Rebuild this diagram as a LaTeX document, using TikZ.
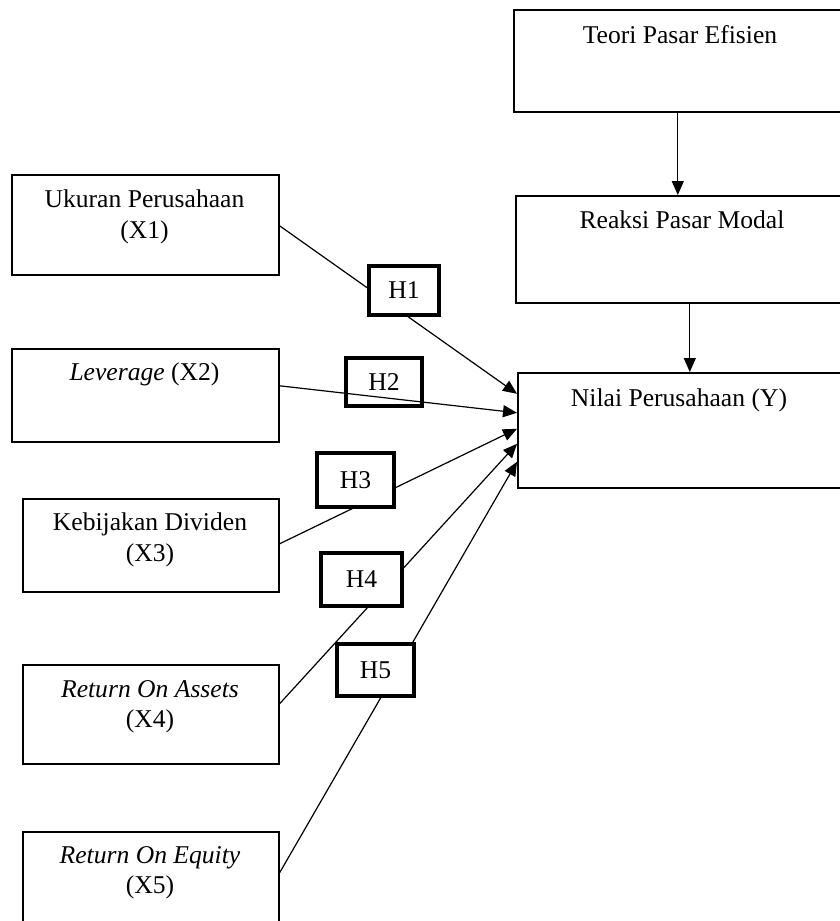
\documentclass[tikz,border=0pt]{standalone}
\usepackage{fontspec}
\setmainfont{Liberation Serif}
\usetikzlibrary{arrows.meta}
\begin{document}
\begin{tikzpicture}[x=1pt,y=-1pt,
  box/.style={draw, line width=1.6pt, inner sep=0pt, anchor=north west},
  hbox/.style={draw, line width=3.8pt, inner sep=0pt, font=\fontsize{25.6}{31}\selectfont},
  txt/.style={inner sep=0pt, anchor=base, font=\fontsize{25.6}{31}\selectfont},
  link/.style={line width=1.2pt, -{Triangle[length=14pt,width=12pt]}},
]
\useasboundingbox (0,0) rectangle (840,921);
\clip (0,0) rectangle (840,921);

% right column
\node[box, minimum width=333pt, minimum height=102pt] (T) at (513,9) {};
\node[box, minimum width=331pt, minimum height=107pt] (R) at (515,195) {};
\node[box, minimum width=329pt, minimum height=115pt] (N) at (517,372) {};
\node[txt] (Tt) at (680,43) {Teori Pasar Efisien};
\node[txt] (Rt) at (682,228) {Reaksi Pasar Modal};
\node[txt] (Nt) at (679,406) {Nilai Perusahaan (Y)};

% left column
\node[box, minimum width=267pt, minimum height=100pt] (X1) at (11,174) {};
\node[box, minimum width=267pt, minimum height=93pt] (X2) at (11,348) {};
\node[box, minimum width=256pt, minimum height=93pt] (X3) at (22,498) {};
\node[box, minimum width=256pt, minimum height=99pt] (X4) at (22,664) {};
\node[box, minimum width=256pt, minimum height=100pt] (X5) at (22,831) {};

\node[txt] (X1a) at (144.5,207) {Ukuran Perusahaan};
\node[txt] (X1b) at (144.5,238) {(X1)};
\node[txt] (X2a) at (144.5,380) {\textit{Leverage} (X2)};
\node[txt] (X3a) at (150,530) {Kebijakan Dividen};
\node[txt] (X3b) at (150,561) {(X3)};
\node[txt] (X4a) at (150,697) {\textit{Return On Assets}};
\node[txt] (X4b) at (150,727) {(X4)};
\node[txt] (X5a) at (150,863) {\textit{Return On Equity}};
\node[txt] (X5b) at (150,893) {(X5)};

% connectors
\draw[link] ([xshift=-2.5pt]T.south) -- ([xshift=-3.5pt]R.north);
\draw[link] ([xshift=8.5pt]R.south) -- ([xshift=7.5pt]N.north);
\draw[link] ([yshift=-1pt]X1.east) -- ([yshift=36.5pt]N.west);
\draw[link] ([yshift=9.5pt]X2.east) -- ([yshift=17.5pt]N.west);
\draw[link] ([yshift=1.5pt]X3.east) -- ([yshift=1.5pt]N.west);
\draw[link] ([yshift=10.5pt]X4.east) -- ([yshift=-13.5pt]N.west);
\draw[link] ([yshift=9pt]X5.east) -- ([yshift=-31.5pt]N.west);

% hypothesis labels
\node[hbox, fill=white, minimum width=70pt, minimum height=49pt] (H1) at (404,290.5) {H1};
\node[hbox, minimum width=76pt, minimum height=48pt] (H2) at (384,382) {H2};
\node[hbox, fill=white, minimum width=77pt, minimum height=54pt] (H3) at (355.5,480) {H3};
\node[hbox, fill=white, minimum width=81pt, minimum height=53pt] (H4) at (361.5,579.5) {H4};
\node[hbox, fill=white, minimum width=77pt, minimum height=52pt] (H5) at (375.5,670) {H5};
\end{tikzpicture}
\end{document}
